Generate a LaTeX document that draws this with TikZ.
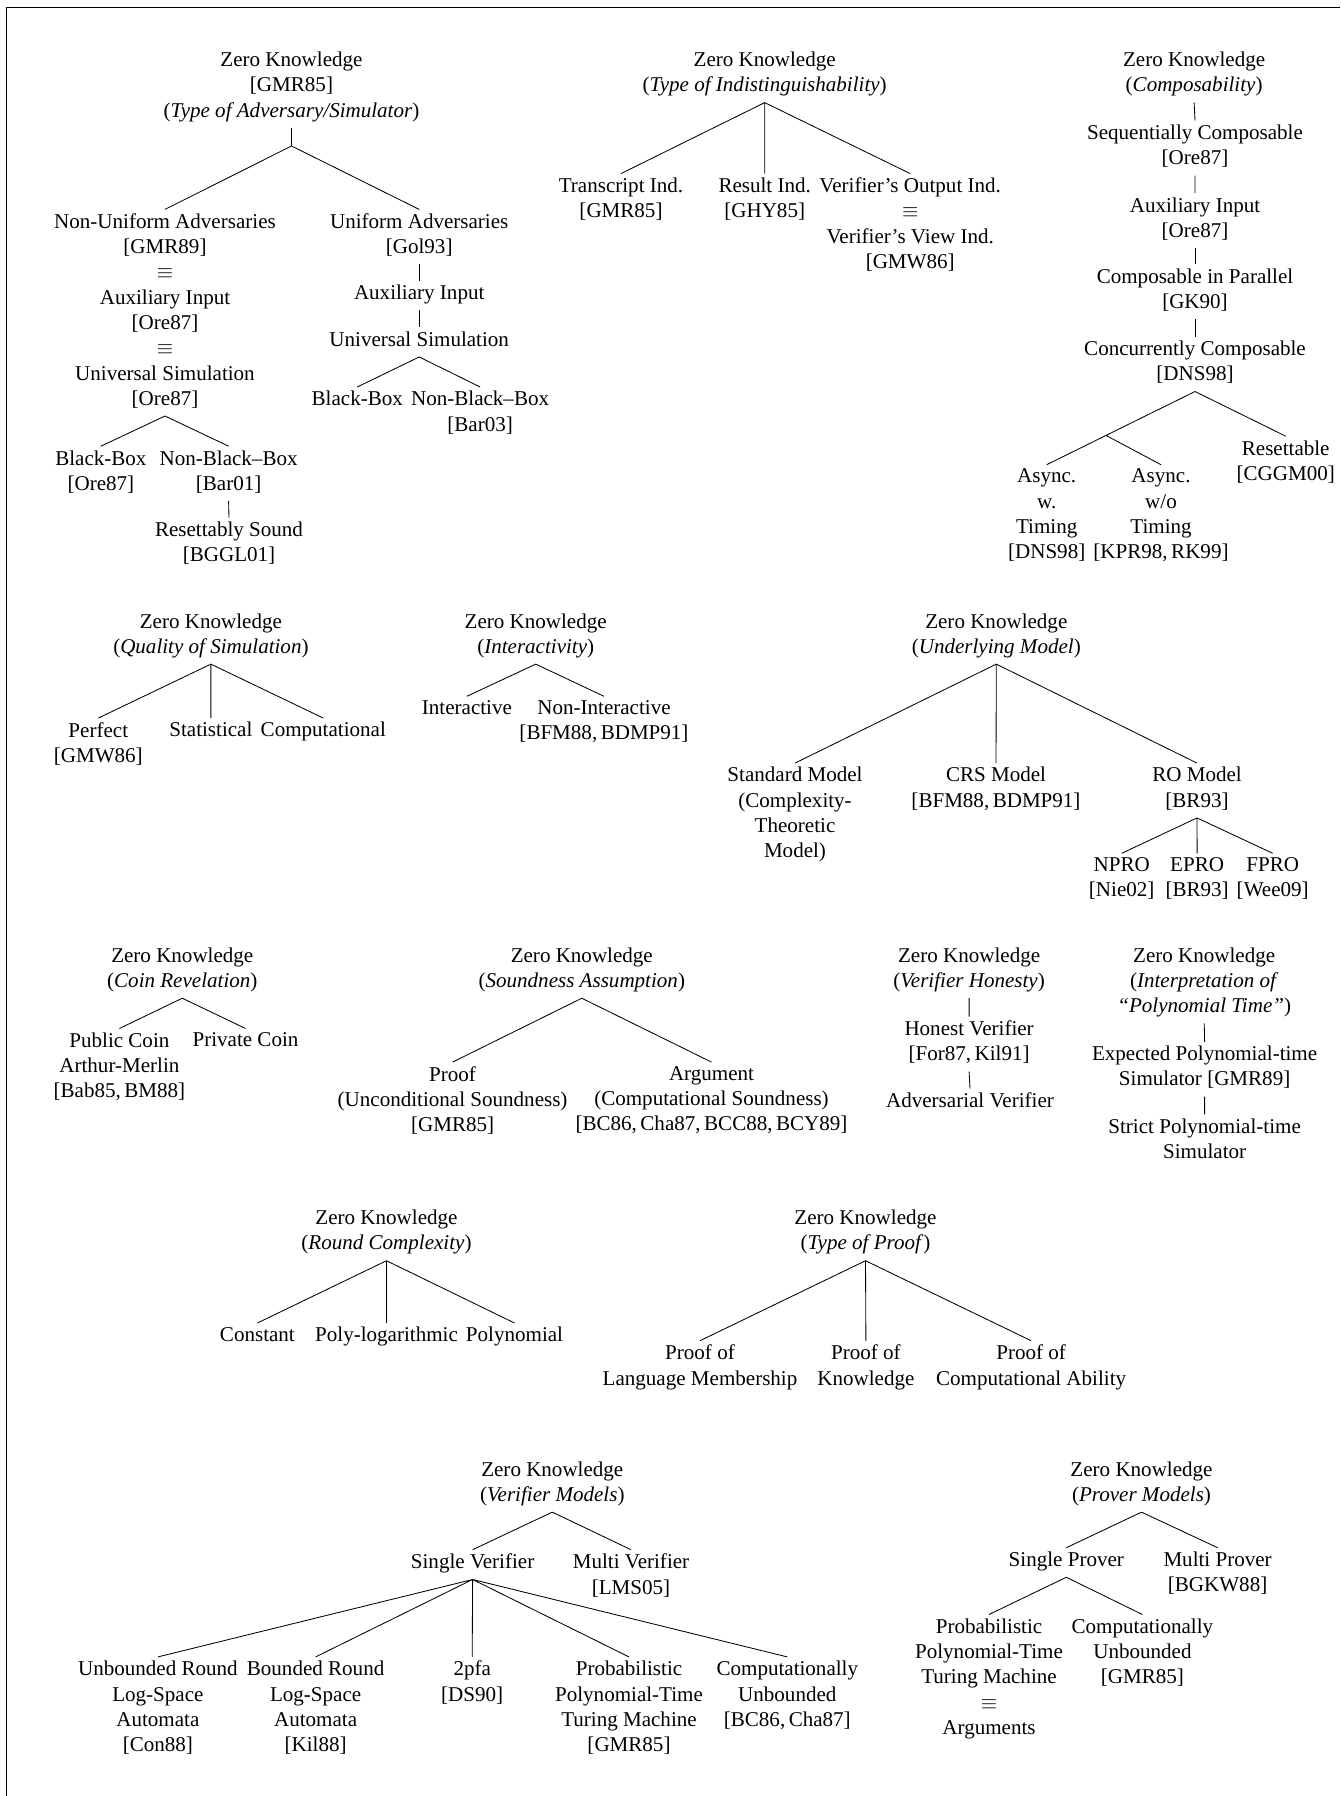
\documentclass[tikz,border=0pt]{standalone}
\usepackage{fontspec}
\setmainfont{Liberation Serif}
\usetikzlibrary{calc}
\newcommand{\zkbot}{\rule[-3.1pt]{0pt}{3.1pt}}
\begin{document}
\begin{tikzpicture}[x=0.475pt, y=-0.475pt,
    zk/.style={align=center, inner xsep=0pt, inner ysep=1.8pt, anchor=north,
      execute at end node=\zkbot}]
    \useasboundingbox (0,0) rectangle (1340,1796);
    \draw (6.5,1796) -- (6.5,7) -- (1340,7);

    \node[zk] (advroot) at (291.5,47.8) {Zero Knowledge\\{[GMR85]}\\(\textit{Type of Adversary/Simulator})};
    \coordinate (advfork) at (291.5,146);
    \node[zk] (nonunif) at (165,209.4) {Non-Uniform Adversaries\\{[GMR89]}\\$\equiv$\\Auxiliary Input\\{[Ore87]}\\$\equiv$\\Universal Simulation\\{[Ore87]}};
    \node[zk] (unif) at (419.2,209.4) {Uniform Adversaries\\{[Gol93]}};
    \node[zk] (unifaux) at (419.2,280.8) {Auxiliary Input};
    \node[zk] (unifsim) at (419.2,327.4) {Universal Simulation};
    \node[zk] (unifbb) at (357.3,387) {Black-Box};
    \node[zk] (unifnbb) at (480.1,387) {Non-Black--Box\\{[Bar03]}};
    \node[zk] (nonunifbb) at (100.9,446.2) {Black-Box\\{[Ore87]}};
    \node[zk] (nonunifnbb) at (228.6,446.2) {Non-Black--Box\\{[Bar01]}};
    \node[zk] (resound) at (229,517.6) {Resettably Sound\\{[BGGL01]}};
    \draw (advroot.south) -- (advfork) (advfork) -- (nonunif.north) (advfork) -- (unif.north);
    \draw (unif.south) -- (unifaux.north) (unifaux.south) -- (unifsim.north);
    \draw (unifsim.south) -- (unifbb.north) (unifsim.south) -- (unifnbb.north);
    \draw (nonunif.south) -- (nonunifbb.north) (nonunif.south) -- (nonunifnbb.north);
    \draw (nonunifnbb.south) -- (resound.north);

    \node[zk] (indroot) at (764.7,47.8) {Zero Knowledge\\(\textit{Type of Indistinguishability})};
    \node[zk] (transcript) at (621,173.6) {Transcript Ind.\\{[GMR85]}};
    \node[zk] (result) at (764.7,173.6) {Result Ind.\\{[GHY85]}};
    \node[zk] (verout) at (910.2,173.6) {Verifier's Output Ind.\\$\equiv$\\Verifier's View Ind.\\{[GMW86]}};
    \draw (indroot.south) -- (transcript.north) (indroot.south) -- (result.north) (indroot.south) -- (verout.north);

    \node[zk] (comproot) at (1194.1,47.8) {Zero Knowledge\\(\textit{Composability})};
    \node[zk] (seqcomp) at (1195,120.7) {Sequentially Composable\\{[Ore87]}};
    \node[zk] (auxcomp) at (1195,193.2) {Auxiliary Input\\{[Ore87]}};
    \node[zk] (parcomp) at (1195,264.5) {Composable in Parallel\\{[GK90]}};
    \node[zk] (concomp) at (1195,336.7) {Concurrently Composable\\{[DNS98]}};
    \node[zk] (asyncw) at (1046.7,464.7) {Async.\\w.\\Timing\\{[DNS98]}};
    \node[zk] (asyncwo) at (1161,464.7) {Async.\\w/o\\Timing\\{[KPR98,\,RK99]}};
    \node[zk] (resettable) at (1285.7,436.2) {Resettable\\{[CGGM00]}};
    \coordinate (asyncfork) at ($(concomp.south)!0.6!(asyncw.north)$);
    \draw (comproot.south) -- (seqcomp.north) (seqcomp.south) -- (auxcomp.north);
    \draw (auxcomp.south) -- (parcomp.north) (parcomp.south) -- (concomp.north);
    \draw (concomp.south) -- (asyncw.north) (asyncfork) -- (asyncwo.north) (concomp.south) -- (resettable.north);

    \node[zk] (qualroot) at (210.9,609.3) {Zero Knowledge\\(\textit{Quality of Simulation})};
    \node[zk] (perfect) at (98.3,718.1) {Perfect\\{[GMW86]}};
    \node[zk] (statistical) at (210.9,718.1) {Statistical};
    \node[zk] (computational) at (323.3,718.1) {Computational};
    \draw (qualroot.south) -- (perfect.north) (qualroot.south) -- (statistical.north) (qualroot.south) -- (computational.north);

    \node[zk] (interroot) at (535.7,609.3) {Zero Knowledge\\(\textit{Interactivity})};
    \node[zk] (interactive) at (466.9,696.3) {Interactive};
    \node[zk] (noninteractive) at (604,696.3) {Non-Interactive\\{[BFM88,\,BDMP91]}};
    \draw (interroot.south) -- (interactive.north) (interroot.south) -- (noninteractive.north);

    \node[zk] (modelroot) at (996.3,609.3) {Zero Knowledge\\(\textit{Underlying Model})};
    \node[zk] (standard) at (795,763.1) {Standard Model\\(Complexity-\\Theoretic\\Model)};
    \node[zk] (crs) at (996,763.1) {CRS Model\\{[BFM88,\,BDMP91]}};
    \node[zk] (ro) at (1197,763.1) {RO Model\\{[BR93]}};
    \node[zk] (npro) at (1121.7,853.3) {NPRO\\{[Nie02]}};
    \node[zk] (epro) at (1197.1,853.3) {EPRO\\{[BR93]}};
    \node[zk] (fpro) at (1272.7,853.3) {FPRO\\{[Wee09]}};
    \draw (modelroot.south) -- (standard.north) (modelroot.south) -- (crs.north) (modelroot.south) -- (ro.north);
    \draw (ro.south) -- (npro.north) (ro.south) -- (epro.north) (ro.south) -- (fpro.north);

    \node[zk] (coinroot) at (182.3,943.4) {Zero Knowledge\\(\textit{Coin Revelation})};
    \node[zk] (publiccoin) at (119.4,1028.5) {Public Coin\\Arthur-Merlin\\{[Bab85,\,BM88]}};
    \node[zk] (privatecoin) at (245.5,1028.5) {Private Coin};
    \draw (coinroot.south) -- (publiccoin.north) (coinroot.south) -- (privatecoin.north);

    \node[zk] (soundroot) at (581.8,943.4) {Zero Knowledge\\(\textit{Soundness Assumption})};
    \node[zk] (proof) at (452.6,1062.1) {Proof\\(Unconditional Soundness)\\{[GMR85]}};
    \node[zk] (argument) at (711.5,1062.1) {Argument\\(Computational Soundness)\\{[BC86,\,Cha87,\,BCC88,\,BCY89]}};
    \draw (soundroot.south) -- (proof.north) (soundroot.south) -- (argument.north);

    \node[zk] (honroot) at (969.1,943.4) {Zero Knowledge\\(\textit{Verifier Honesty})};
    \node[zk] (honest) at (969.1,1016.6) {Honest Verifier\\{[For87,\,Kil91]}};
    \node[zk] (adversarial) at (970,1088.6) {Adversarial Verifier};
    \draw (honroot.south) -- (honest.north) (honest.south) -- (adversarial.north);

    \node[zk] (polyroot) at (1204.2,943.4) {Zero Knowledge\\(\textit{Interpretation of}\\\textit{``Polynomial Time''})};
    \node[zk] (expected) at (1204.6,1041.9) {Expected Polynomial-time\\Simulator [GMR89]};
    \node[zk] (strict) at (1204.6,1114.3) {Strict Polynomial-time\\Simulator};
    \draw (polyroot.south) -- (expected.north) (expected.south) -- (strict.north);

    \node[zk] (roundroot) at (386.5,1205.9) {Zero Knowledge\\(\textit{Round Complexity})};
    \node[zk] (constant) at (257.4,1323) {Constant};
    \node[zk] (polylog) at (386.5,1323) {Poly-logarithmic};
    \node[zk] (polynomial) at (514.5,1323) {Polynomial};
    \draw (roundroot.south) -- (constant.north) (roundroot.south) -- (polylog.north) (roundroot.south) -- (polynomial.north);

    \node[zk] (proofroot) at (865.5,1205.9) {Zero Knowledge\\(\textit{Type of Proof}\/)};
    \node[zk] (langmem) at (700,1340.7) {Proof of\\Language Membership};
    \node[zk] (knowledge) at (865.9,1340.7) {Proof of\\Knowledge};
    \node[zk] (ability) at (1031.1,1340.7) {Proof of\\Computational Ability};
    \draw (proofroot.south) -- (langmem.north) (proofroot.south) -- (knowledge.north) (proofroot.south) -- (ability.north);

    \node[zk] (verroot) at (552.3,1457.3) {Zero Knowledge\\(\textit{Verifier Models})};
    \node[zk] (singlever) at (472.6,1549.7) {Single Verifier};
    \node[zk] (multiver) at (631,1549.7) {Multi Verifier\\{[LMS05]}};
    \node[zk] (unbounded) at (157.9,1656.9) {Unbounded Round\\Log-Space\\Automata\\{[Con88]}};
    \node[zk] (bounded) at (315.6,1656.9) {Bounded Round\\Log-Space\\Automata\\{[Kil88]}};
    \node[zk] (twopfa) at (472.2,1656.9) {2pfa\\{[DS90]}};
    \node[zk] (ppt) at (629,1656.9) {Probabilistic\\Polynomial-Time\\Turing Machine\\{[GMR85]}};
    \node[zk] (unboundedver) at (787.3,1656.9) {Computationally\\Unbounded\\{[BC86,\,Cha87]}};
    \draw (verroot.south) -- (singlever.north) (verroot.south) -- (multiver.north);
    \draw (singlever.south) -- (unbounded.north) (singlever.south) -- (bounded.north) (singlever.south) -- (twopfa.north)
          (singlever.south) -- (ppt.north) (singlever.south) -- (unboundedver.north);

    \node[zk] (provroot) at (1141.5,1457.3) {Zero Knowledge\\(\textit{Prover Models})};
    \node[zk] (singleprov) at (1066.3,1547.7) {Single Prover};
    \node[zk] (multiprov) at (1217.6,1547.7) {Multi Prover\\{[BGKW88]}};
    \node[zk] (pptprov) at (989,1614.5) {Probabilistic\\Polynomial-Time\\Turing Machine\\$\equiv$\\Arguments};
    \node[zk] (unboundedprov) at (1142.4,1614.5) {Computationally\\Unbounded\\{[GMR85]}};
    \draw (provroot.south) -- (singleprov.north) (provroot.south) -- (multiprov.north);
    \draw (singleprov.south) -- (pptprov.north) (singleprov.south) -- (unboundedprov.north);
\end{tikzpicture}
\end{document}
